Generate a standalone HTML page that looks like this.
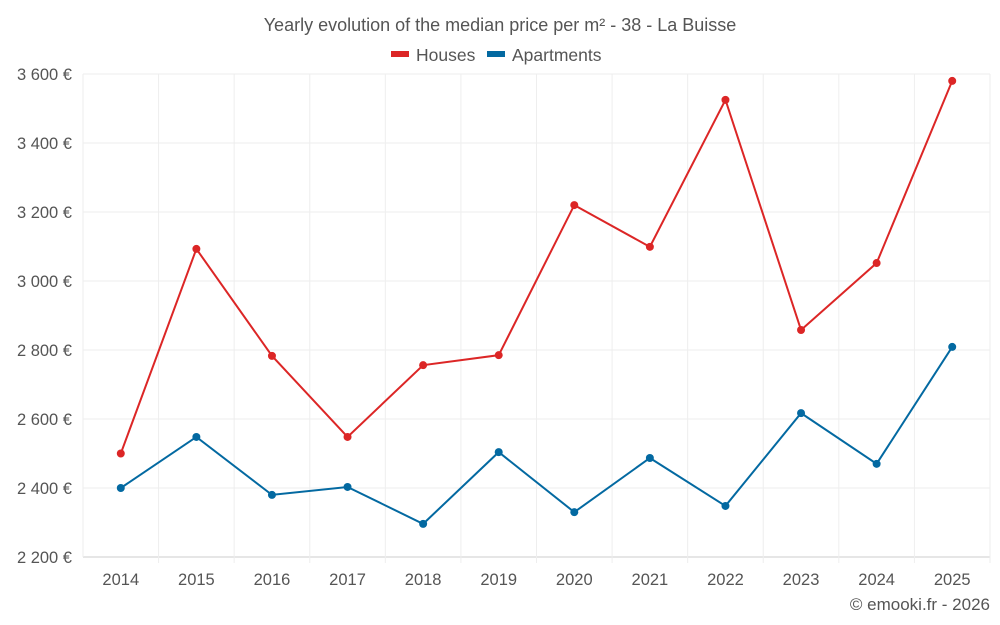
<!DOCTYPE html>
<html><head><meta charset="utf-8"><style>
body{margin:0;background:#fff;font-family:"Liberation Sans",sans-serif;}
svg{display:block}
text{font-family:"Liberation Sans",sans-serif;fill:#555}
</style></head><body>
<svg id="c" width="1000" height="625">
<text x="500" y="31" text-anchor="middle" font-size="18">Yearly evolution of the median price per m² - 38 - La Buisse</text>
<g>
<g><rect x="391" y="51" width="18" height="6" fill="#dc2626"/><text x="416" y="61" font-size="17.5">Houses</text></g>
<g><rect x="487" y="51" width="18" height="6" fill="#0369a1"/><text x="512" y="61" font-size="17.5">Apartments</text></g>
</g>
<g id="grid"></g><g id="axes"></g><g id="series"></g>
<text x="990" y="610" text-anchor="end" font-size="17">© emooki.fr - 2026</text>
</svg>
<script>
const years=[2014,2015,2016,2017,2018,2019,2020,2021,2022,2023,2024,2025];
const houses=[2500,3093,2783,2548,2756,2785,3220,3099,3525,2858,3052,3580];
const apartments=[2400,2548,2380,2403,2296,2504,2330,2487,2348,2617,2470,2809];
const yTicks=[2200,2400,2600,2800,3000,3200,3400,3600];
const NS="http://www.w3.org/2000/svg";
const x0=83,x1=990,yTop=74,yBot=557,yMin=2200,yMax=3600;
const step=(x1-x0)/years.length;
const xs=i=>x0+step*(i+0.5);
const ys=v=>yBot-(v-yMin)/(yMax-yMin)*(yBot-yTop);
function mk(tag,attrs,parent){const e=document.createElementNS(NS,tag);for(const k in attrs)e.setAttribute(k,attrs[k]);parent.appendChild(e);return e;}
const grid=document.getElementById('grid'),axes=document.getElementById('axes'),ser=document.getElementById('series');
yTicks.forEach(t=>{
 const l=mk('line',{x1:x0,x2:x1,y1:ys(t),y2:ys(t),stroke:t===yMin?'#ccc':'#eee'},grid);
 
 
 const tx=mk('text',{x:72,y:ys(t)+6,'text-anchor':'end','font-size':16.5},axes);
 tx.textContent=(t/1000|0)+' '+String(t%1000).padStart(3,'0')+' €';
 
 
});
for(let i=0;i<=years.length;i++){
 const gx=x0+step*i;
 const l=mk('line',{x1:gx,x2:gx,y1:yTop,y2:yBot+(i>0?6:0),stroke:'#eee'},grid);
 
 
}
years.forEach((y,i)=>{
 const tx=mk('text',{x:xs(i),y:585,'text-anchor':'middle','font-size':16.5},axes);
 tx.textContent=y;
 
 
});
[[houses,'#dc2626','houses'],[apartments,'#0369a1','apartments']].forEach(([d,c,n])=>{
 const p=mk('polyline',{points:d.map((v,i)=>xs(i)+','+ys(v)).join(' '),fill:'none',stroke:c,'stroke-width':2},ser);
 
 
 d.forEach((v,i)=>{
  const ci=mk('circle',{cx:xs(i),cy:ys(v),r:4,fill:c},ser);
  
  
 });
});
</script>
</body></html>
